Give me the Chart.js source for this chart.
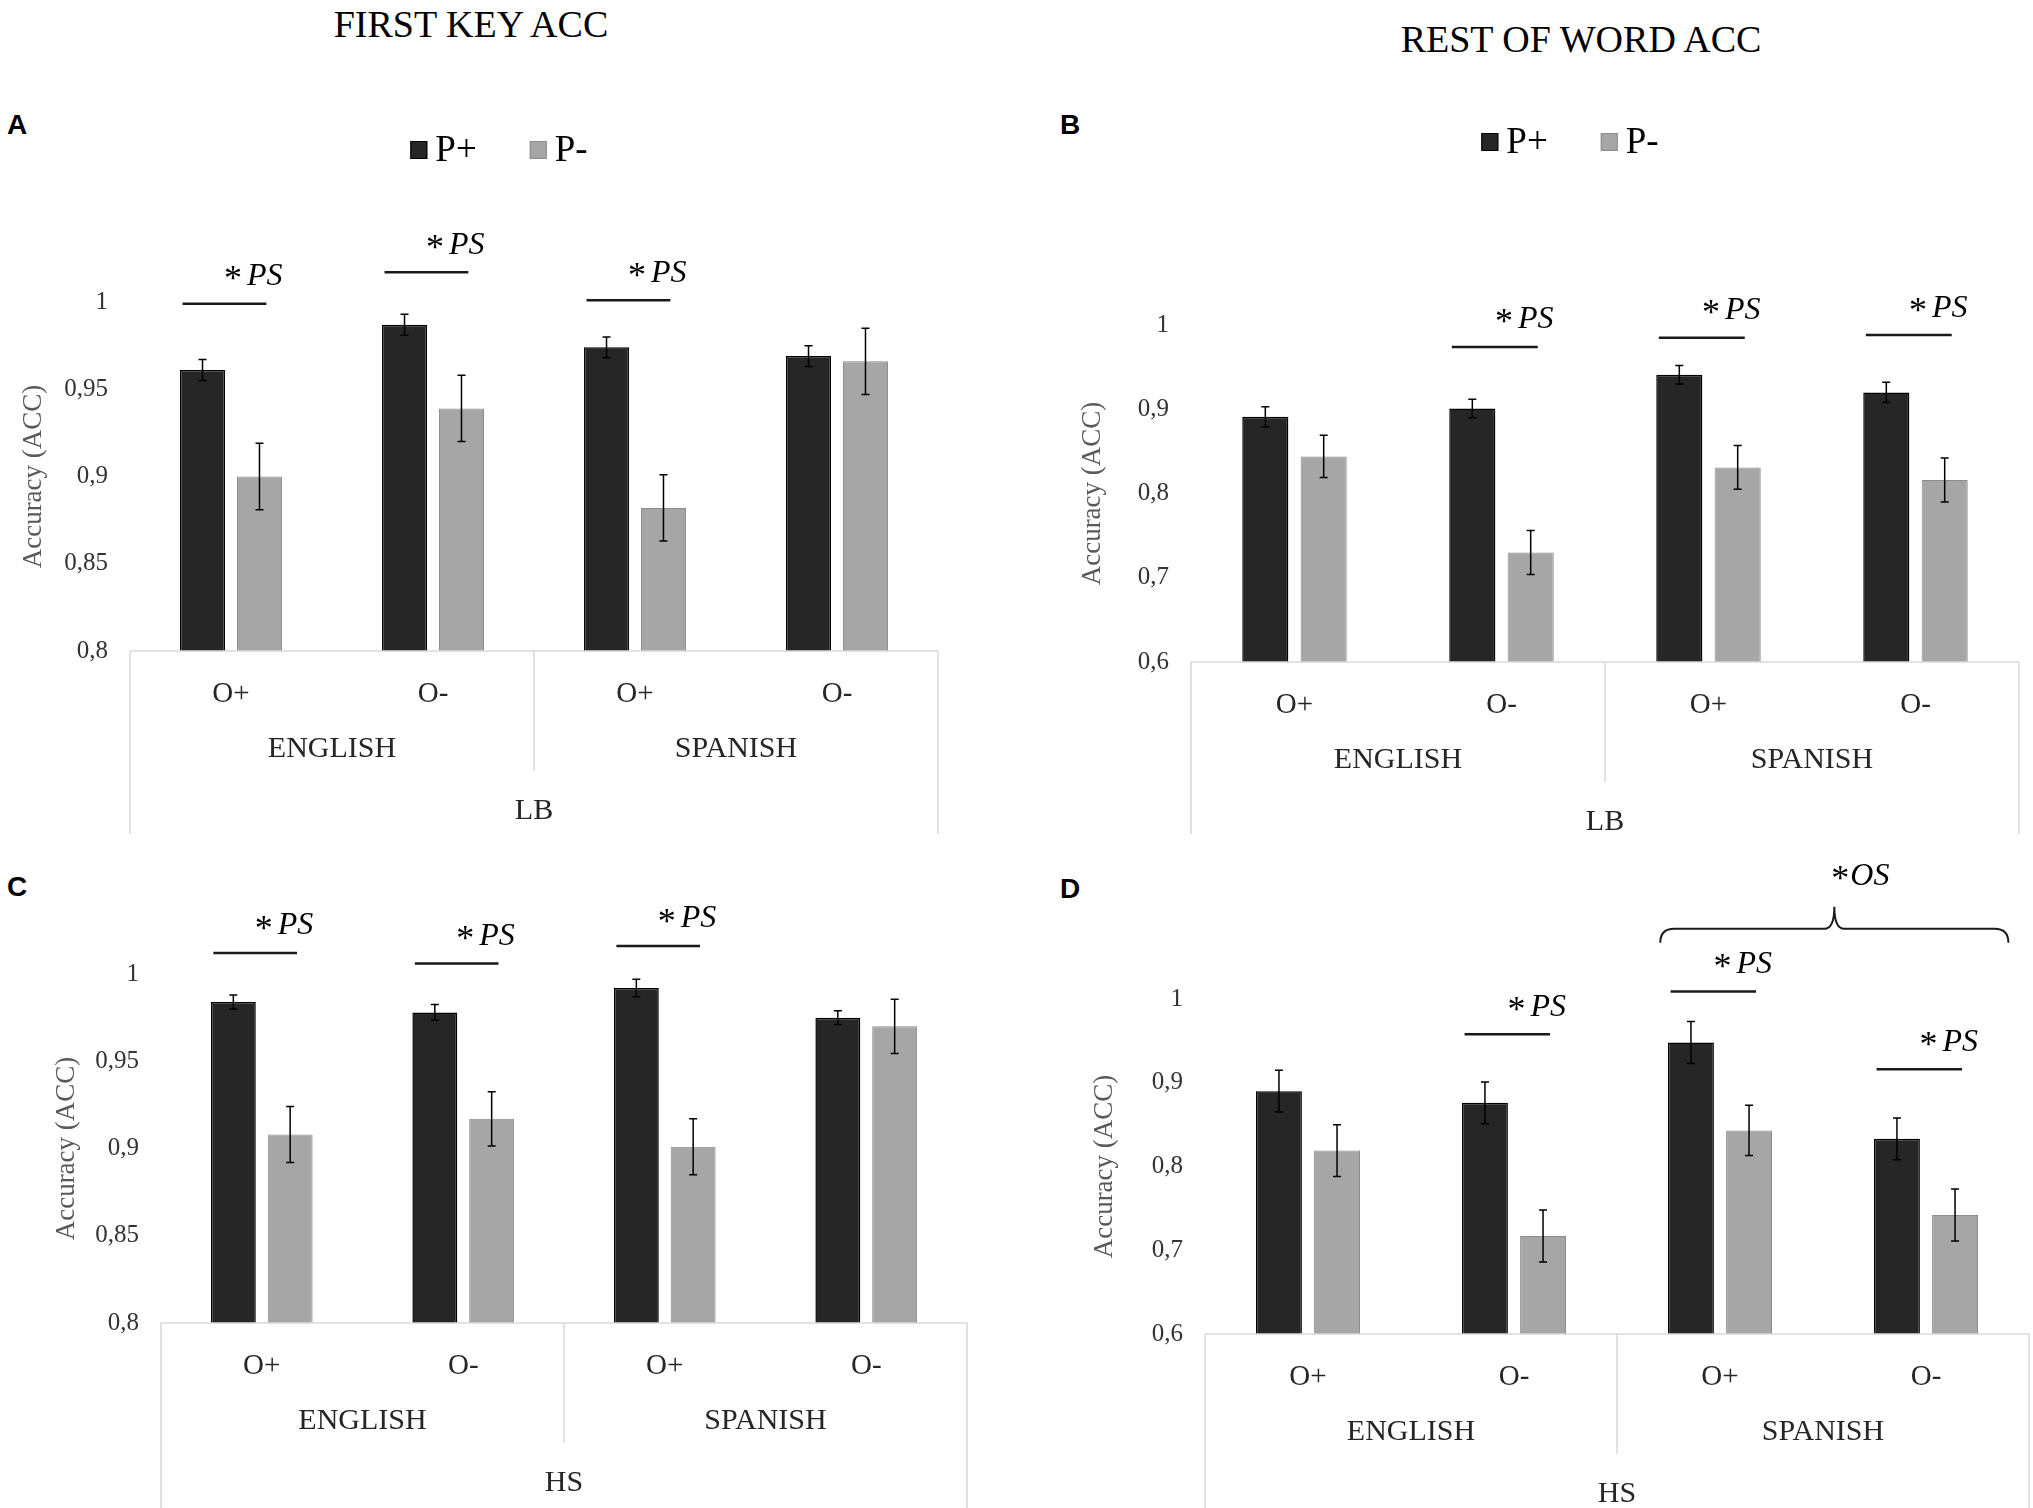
<!DOCTYPE html>
<html>
<head>
<meta charset="utf-8">
<script src="https://cdn.jsdelivr.net/npm/chart.js@4.4.1/dist/chart.umd.min.js"></script>
<style>
body { margin: 0; background: #fff; width: 2033px; height: 1508px; overflow: hidden; position: relative; }
canvas { position: absolute; }
.head { position: absolute; transform: translate(-50%, -50%); font: 38px "Liberation Serif", serif; color: #000; white-space: nowrap; line-height: 1; }
.tag { position: absolute; transform: translateY(-50%); font: bold 28px "Liberation Sans", sans-serif; color: #000; line-height: 1; }
</style>
</head>
<body>
<div class="head" style="left:471px;top:24px">FIRST KEY ACC</div>
<div class="head" style="left:1581px;top:39px">REST OF WORD ACC</div>
<div class="tag" style="left:7px;top:125px">A</div>
<div class="tag" style="left:1060px;top:125px">B</div>
<div class="tag" style="left:7px;top:887px">C</div>
<div class="tag" style="left:1060px;top:889px">D</div>
<canvas id="chartA" width="1016" height="850" style="left:0px;top:0px"></canvas>
<canvas id="chartB" width="1017" height="850" style="left:1016px;top:0px"></canvas>
<canvas id="chartC" width="1016" height="658" style="left:0px;top:850px"></canvas>
<canvas id="chartD" width="1017" height="658" style="left:1016px;top:850px"></canvas>
<script>
/* Categories and labels */
const categories = ['O+', 'O-', 'O+', 'O-'];
const languages = ['ENGLISH', 'SPANISH'];
const seriesNames = ['P+', 'P-'];

/* A: first key accuracy, LB */
const pPlusA = [0.961, 0.987, 0.974, 0.969];
const pPlusErrA = [0.006, 0.006, 0.006, 0.006];
const pMinusA = [0.900, 0.939, 0.882, 0.966];
const pMinusErrA = [0.019, 0.019, 0.019, 0.019];
const sigCatsA = [0, 1, 2];
const sigLevelsA = [0.999, 1.017, 1.001];

/* B: rest of word accuracy, LB */
const pPlusB = [0.891, 0.901, 0.941, 0.920];
const pPlusErrB = [0.012, 0.011, 0.011, 0.012];
const pMinusB = [0.844, 0.730, 0.831, 0.816];
const pMinusErrB = [0.025, 0.026, 0.026, 0.026];
const sigCatsB = [1, 2, 3];
const sigLevelsB = [0.974, 0.985, 0.988];

/* C: first key accuracy, HS */
const pPlusC = [0.984, 0.978, 0.992, 0.975];
const pPlusErrC = [0.004, 0.0045, 0.005, 0.004];
const pMinusC = [0.908, 0.917, 0.901, 0.970];
const pMinusErrC = [0.016, 0.0155, 0.016, 0.0155];
const sigCatsC = [0, 1, 2];
const sigLevelsC = [1.012, 1.006, 1.016];

/* D: rest of word accuracy, HS */
const pPlusD = [0.890, 0.876, 0.948, 0.833];
const pPlusErrD = [0.025, 0.025, 0.025, 0.025];
const pMinusD = [0.819, 0.717, 0.843, 0.742];
const pMinusErrD = [0.031, 0.031, 0.030, 0.031];
const sigCatsD = [1, 2, 3];
const sigLevelsD = [0.958, 1.009, 0.916];
const braceCatsD = [2, 3];
const braceLevelD = 1.084;

const SERIF = '"Liberation Serif", "Times New Roman", serif';
Chart.defaults.font.family = SERIF;

/**
 * Draws "*" in regular type followed by italic text, centred on cx.
 */
function drawStarText(ctx, cx, cy, rest, gap) {
	ctx.font = '36px ' + SERIF;
	var w1 = ctx.measureText('*').width;
	ctx.font = 'italic 32px ' + SERIF;
	var w2 = ctx.measureText(rest).width;
	var x0 = cx - (w1 + gap + w2) / 2;
	ctx.fillStyle = '#000';
	ctx.textAlign = 'left';
	ctx.textBaseline = 'middle';
	ctx.font = '36px ' + SERIF;
	ctx.fillText('*', x0, cy + 4);
	ctx.font = 'italic 32px ' + SERIF;
	ctx.fillText(rest, x0 + w1 + gap, cy);
}

/* Error bars, category box, group labels, significance marks, legend */
const overlay = {
	id: 'overlay',
	afterDatasetsDraw(chart) {
		const ctx = chart.ctx;
		const y = chart.scales.y;
		ctx.save();
		ctx.strokeStyle = '#000';
		ctx.lineWidth = 1.5;
		chart.data.datasets.forEach(function(ds, i) {
			chart.getDatasetMeta(i).data.forEach(function(bar, j) {
				var top = y.getPixelForValue(ds.data[j] + ds.errors[j]);
				var bot = y.getPixelForValue(ds.data[j] - ds.errors[j]);
				ctx.beginPath();
				ctx.moveTo(bar.x, top); ctx.lineTo(bar.x, bot);
				ctx.moveTo(bar.x - 4, top); ctx.lineTo(bar.x + 4, top);
				ctx.moveTo(bar.x - 4, bot); ctx.lineTo(bar.x + 4, bot);
				ctx.stroke();
			});
		});
		ctx.restore();
	},
	afterDraw(chart, args, o) {
		const ctx = chart.ctx;
		const a = chart.chartArea;
		const x = chart.scales.x;
		const y = chart.scales.y;
		const catW = x.getPixelForValue(1) - x.getPixelForValue(0);
		ctx.save();

		/* category box below the axis */
		ctx.strokeStyle = '#d9d9d9';
		ctx.lineWidth = 1.5;
		var sep = (x.getPixelForValue(1) + x.getPixelForValue(2)) / 2;
		var boxBottom = Math.min(a.bottom + o.boxDepth, chart.height);
		ctx.beginPath();
		ctx.moveTo(a.left, a.bottom); ctx.lineTo(a.right, a.bottom);
		ctx.moveTo(a.left, a.bottom); ctx.lineTo(a.left, boxBottom);
		ctx.moveTo(a.right, a.bottom); ctx.lineTo(a.right, boxBottom);
		ctx.moveTo(sep, a.bottom); ctx.lineTo(sep, a.bottom + 120);
		ctx.stroke();

		ctx.fillStyle = '#262626';
		ctx.textAlign = 'center';
		ctx.textBaseline = 'middle';
		ctx.font = '30px ' + SERIF;
		languages.forEach(function(lang, k) {
			var cx = (x.getPixelForValue(2 * k) + x.getPixelForValue(2 * k + 1)) / 2;
			ctx.fillText(lang, cx, a.bottom + 98);
		});
		ctx.fillText(o.group, (a.left + a.right) / 2, a.bottom + 160);

		/* significance lines */
		ctx.strokeStyle = '#1a1a1a';
		ctx.lineWidth = 2.5;
		o.sigCats.forEach(function(c, k) {
			var cx = x.getPixelForValue(c);
			var ly = y.getPixelForValue(o.sigLevels[k]);
			ctx.beginPath();
			ctx.moveTo(cx - 0.24 * catW, ly);
			ctx.lineTo(cx + 0.175 * catW, ly);
			ctx.stroke();
			drawStarText(ctx, cx + 0.11 * catW, ly - 27, 'PS', 5);
		});

		/* brace over a pair of categories */
		if (o.braceCats) {
			var x0 = x.getPixelForValue(o.braceCats[0]) - 0.29 * catW;
			var x1 = x.getPixelForValue(o.braceCats[1]) + 0.40 * catW;
			var xc = (x0 + x1) / 2;
			var by = y.getPixelForValue(o.braceLevel);
			ctx.lineWidth = 2;
			ctx.beginPath();
			ctx.moveTo(x0, by + 14);
			ctx.quadraticCurveTo(x0, by, x0 + 14, by);
			ctx.lineTo(xc - 10, by);
			ctx.quadraticCurveTo(xc, by, xc, by - 22);
			ctx.quadraticCurveTo(xc, by, xc + 10, by);
			ctx.lineTo(x1 - 14, by);
			ctx.quadraticCurveTo(x1, by, x1, by + 14);
			ctx.stroke();
			drawStarText(ctx, xc + 26, by - 52, 'OS', 1);
		}

		/* legend */
		if (o.legendY) {
			var sets = chart.data.datasets;
			ctx.font = '37px ' + SERIF;
			var widths = sets.map(function(ds) { return 17 + 8 + ctx.measureText(ds.label).width; });
			var total = widths.reduce(function(s, w) { return s + w; }, 0) + 53 * (sets.length - 1);
			var lx = (a.left + a.right) / 2 - 35 - total / 2;
			sets.forEach(function(ds, k) {
				ctx.fillStyle = ds.backgroundColor;
				ctx.fillRect(lx, o.legendY - 9, 17, 18);
				ctx.strokeStyle = ds.borderColor;
				ctx.lineWidth = 1;
				ctx.strokeRect(lx + 0.5, o.legendY - 8.5, 16, 17);
				ctx.fillStyle = '#000';
				ctx.textAlign = 'left';
				ctx.fillText(ds.label, lx + 25, o.legendY + 1);
				lx += widths[k] + 53;
			});
		}
		ctx.restore();
	}
};

function fmtTick(v) {
	return String(Math.round(v * 100) / 100).replace('.', ',');
}

/**
 * Builds one panel of the figure.
 */
function makePanel(canvasId, lay, yMin, yMax, step, plus, plusErr, minus, minusErr, extra) {
	const ctx = document.getElementById(canvasId).getContext('2d');
	return new Chart(ctx, {
		type: 'bar',
		plugins: [overlay],
		data: {
			labels: categories,
			datasets: [
				{
				label: seriesNames[0],
				data: plus,
				errors: plusErr,
				backgroundColor: '#262626',
				borderColor: '#000000',
				borderWidth: 1.5,
				barPercentage: 0.79,
				categoryPercentage: 0.564},
				{
				label: seriesNames[1],
				data: minus,
				errors: minusErr,
				backgroundColor: '#a6a6a6',
				borderColor: '#8c8c8c',
				borderWidth: 1,
				barPercentage: 0.79,
				categoryPercentage: 0.564}
			]
		},
		options: {
			responsive: false,
			animation: false,
			devicePixelRatio: 1,
			layout: { padding: { top: lay.top, left: 0, right: lay.right, bottom: 0 } },
			plugins: {
				legend: { display: false },
				tooltip: { enabled: false },
				overlay: extra
			},
			scales: {
				x: {
					grid: { display: false, drawTicks: false },
					border: { display: false },
					ticks: { color: '#262626', font: { family: SERIF, size: 29 }, padding: 26, maxRotation: 0 },
					afterFit: function(s) { s.height = lay.xHeight; }
				},
				y: {
					min: yMin,
					max: yMax,
					grid: { display: false, drawTicks: false },
					border: { display: false },
					ticks: { stepSize: step, color: '#333333', font: { family: SERIF, size: 25 }, padding: 22, callback: fmtTick },
					title: { display: true, text: 'Accuracy (ACC)', color: '#595959', font: { family: SERIF, size: 27 }, padding: { top: lay.titlePad, bottom: 0 } },
					afterFit: function(s) { s.width = lay.yWidth; }
				}
			}
		}
	});
}

makePanel('chartA', { top: 302, right: 78, xHeight: 199, yWidth: 130, titlePad: 18 },
	0.8, 1, 0.05, pPlusA, pPlusErrA, pMinusA, pMinusErrA,
	{ group: 'LB', boxDepth: 183, sigCats: sigCatsA, sigLevels: sigLevelsA, legendY: 150 });

makePanel('chartB', { top: 325, right: 14, xHeight: 188, yWidth: 175, titlePad: 61 },
	0.6, 1, 0.1, pPlusB, pPlusErrB, pMinusB, pMinusErrB,
	{ group: 'LB', boxDepth: 172, sigCats: sigCatsB, sigLevels: sigLevelsB, legendY: 142 });

makePanel('chartC', { top: 124, right: 49, xHeight: 185, yWidth: 161, titlePad: 51 },
	0.8, 1, 0.05, pPlusC, pPlusErrC, pMinusC, pMinusErrC,
	{ group: 'HS', boxDepth: 400, sigCats: sigCatsC, sigLevels: sigLevelsC });

makePanel('chartD', { top: 149, right: 4, xHeight: 174, yWidth: 189, titlePad: 73 },
	0.6, 1, 0.1, pPlusD, pPlusErrD, pMinusD, pMinusErrD,
	{ group: 'HS', boxDepth: 400, sigCats: sigCatsD, sigLevels: sigLevelsD,
	  braceCats: braceCatsD, braceLevel: braceLevelD });
</script>
</body>
</html>
